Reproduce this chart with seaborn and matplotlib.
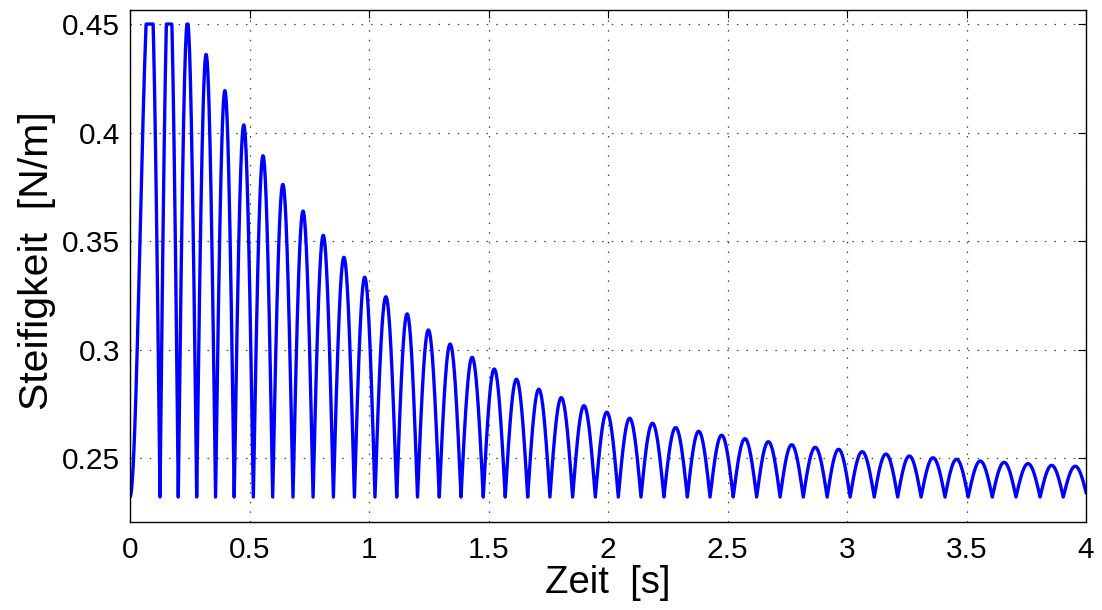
import numpy as np
import pandas as pd
import matplotlib
matplotlib.use("Agg")
import matplotlib.pyplot as plt
import seaborn as sns

# ---- data ----
# times (s) of the sharp minima (cusps) between the lobes
cusp_times = [0.1255, 0.202, 0.279, 0.358, 0.436, 0.516, 0.597, 0.682, 0.766, 0.851,
              0.939, 1.025, 1.116, 1.203, 1.294, 1.385, 1.478, 1.570, 1.664, 1.757,
              1.852, 1.947, 2.043, 2.138, 2.234, 2.332, 2.427, 2.524, 2.622, 2.720,
              2.817, 2.917, 3.013, 3.114, 3.212, 3.310, 3.410, 3.507, 3.608, 3.707,
              3.808, 3.905]
# peak value of each lobe (first two are saturated at 0.45 in the plot; estimates)
peak_values = [0.475, 0.477, 0.451, 0.436, 0.4193, 0.4035, 0.3893, 0.3761, 0.3638, 0.3526,
               0.3425, 0.3333, 0.3243, 0.3164, 0.3090, 0.3025, 0.2964, 0.2910, 0.2863, 0.2817,
               0.2778, 0.2741, 0.2711, 0.2683, 0.2660, 0.2640, 0.2623, 0.2605, 0.2589, 0.2575,
               0.2561, 0.2549, 0.2540, 0.2529, 0.2518, 0.2509, 0.2501, 0.2494, 0.2486, 0.2480,
               0.2474, 0.2466, 0.2462]
min_value = 0.232
saturation = 0.45
first_peak_time = 0.085
start_time = 0.0
end_time = 4.005

x_ticks = [0, 0.5, 1, 1.5, 2, 2.5, 3, 3.5, 4]
x_tick_labels = ["0", "0.5", "1", "1.5", "2", "2.5", "3", "3.5", "4"]
y_ticks = [0.25, 0.3, 0.35, 0.4, 0.45]
y_tick_labels = ["0.25", "0.3", "0.35", "0.4", "0.45"]
x_label = "Zeit  [s]"
y_label = "Steifigkeit  [N/m]"

# ---- build the curve from the lobes ----
edges = [start_time] + cusp_times + [end_time]
ts, ks = [], []
for i, (a, b) in enumerate(zip(edges[:-1], edges[1:])):
    amp = peak_values[i] - min_value
    if i == 0:
        t1 = np.linspace(a, first_peak_time, 80)
        s1 = (1 - np.cos(np.pi * (t1 - a) / (first_peak_time - a))) / 2
        t2 = np.linspace(first_peak_time, b, 60)[1:]
        s2 = np.cos(np.pi / 2 * (t2 - first_peak_time) / (b - first_peak_time))
        t = np.concatenate([t1, t2])
        s = np.concatenate([s1, s2])
    else:
        u = np.linspace(0, 1, 80)[1:]
        t = a + (b - a) * u
        s = np.sin(np.pi * u)
    ts.append(t)
    ks.append(min_value + amp * s)
t_all = np.concatenate(ts)
k_all = np.minimum(np.concatenate(ks), saturation)
df = pd.DataFrame({"Zeit": t_all, "Steifigkeit": k_all})

# ---- styling ----
sns.set_style("white")
plt.rcParams["font.family"] = ["Liberation Sans", "DejaVu Sans"]

fig = plt.figure(figsize=(11.02, 6.10), dpi=100)
ax = fig.add_axes([130 / 1102, 1 - 522 / 610, 956 / 1102, 512.5 / 610])

sns.lineplot(data=df, x="Zeit", y="Steifigkeit", estimator=None, sort=False,
             color="#0000FF", linewidth=2.4, ax=ax)

ax.set_xlim(0, 4)
ax.set_ylim(0.2205, 0.4567)
ax.set_xticks(x_ticks)
ax.set_xticklabels(x_tick_labels)
ax.set_yticks(y_ticks)
ax.set_yticklabels(y_tick_labels)

ax.grid(True, color="#404040", linestyle=(0, (1.2, 6.5)), linewidth=0.9)
ax.tick_params(axis="both", which="major", direction="in", length=6, width=0.8,
               colors="black", labelsize=21.5, top=True, right=True,
               labeltop=False, labelright=False)
ax.tick_params(axis="x", pad=10)
ax.tick_params(axis="y", pad=7)
for sp in ax.spines.values():
    sp.set_visible(True)
    sp.set_color("black")
    sp.set_linewidth(1.0)

ax.set_xlabel(x_label, fontsize=27.5, color="black")
ax.set_ylabel(y_label, fontsize=29.5, color="black")
ax.xaxis.set_label_coords(0.5, -0.083)
ax.yaxis.set_label_coords(-0.077, 0.51)

fig.savefig("out.png", dpi=100, facecolor="white")
